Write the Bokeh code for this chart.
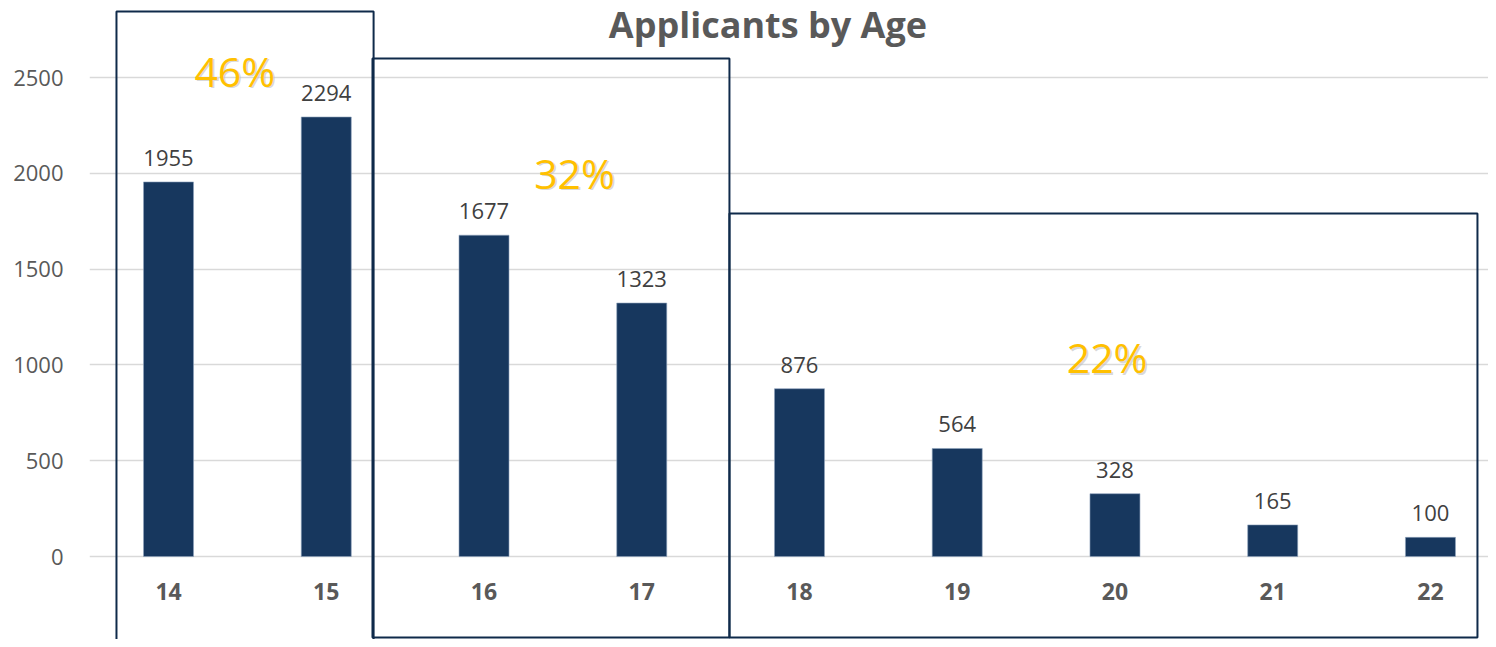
from bokeh.plotting import figure
from bokeh.models import ColumnDataSource, SingleIntervalTicker, Label
from bokeh.core.properties import value
from bokeh.embed import file_html
from bokeh.resources import INLINE

# ---- data ----
ages = [14, 15, 16, 17, 18, 19, 20, 21, 22]
applicants = [1955, 2294, 1677, 1323, 876, 564, 328, 165, 100]
group_first = [14, 16, 18]
group_last = [15, 17, 22]
group_pct = ["46%", "32%", "22%"]
title_text = "Applicants by Age"

FONT = "Open Sans"
NAVY = "#17375E"
GOLD = "#FFC000"
GRAY = "#595959"

p = figure(width=1488, height=639, output_backend="svg", toolbar_location=None,
           x_range=(13.499, 22.368), y_range=(-433, 2902),
           x_axis_location=None, min_border_left=89, min_border_right=0,
           min_border_top=0, min_border_bottom=0, outline_line_color=None)

# y axis
p.yaxis.ticker = SingleIntervalTicker(interval=500)
p.yaxis.axis_line_color = None
p.yaxis.major_tick_line_color = None
p.yaxis.minor_tick_line_color = None
p.yaxis.major_label_text_font = FONT
p.yaxis.major_label_text_font_size = "22px"
p.yaxis.major_label_text_color = GRAY
p.yaxis.major_label_standoff = 20
p.ygrid.grid_line_color = "#D9D9D9"
p.ygrid.grid_line_width = 1.5
p.xgrid.grid_line_color = None

src = ColumnDataSource(dict(age=ages, n=applicants,
                            lab=[str(v) for v in applicants],
                            xl=[str(a) for a in ages],
                            ly=[-183] * len(ages)))

p.vbar(x="age", top="n", width=0.317, bottom=0, source=src,
       fill_color=NAVY, line_color="#8FA3BC", line_width=0.6)

# value labels
p.text(x="age", y="n", text="lab", source=src, text_align="center",
       text_baseline="bottom", y_offset=-16, text_font=value(FONT),
       text_font_size="22px", text_color="#404040")

# category labels
p.text(x="age", y="ly", text="xl", source=src, text_align="center",
       text_baseline="middle", text_font=value(FONT), text_font_style="bold",
       text_font_size="23px", text_color=GRAY)

# group boxes
left_pad = [0.33, 0.707, 0.444]
right_pad = [0.30, 0.556, 0.298]
box_top = [2844, 2599, 1790]
box_bottom = [-520, -423, -423]
pct_x = [14.42, 16.574, 19.95]
pct_y = [2536, 2004, 1039]
bsrc = ColumnDataSource(dict(
    l=[f - lp for f, lp in zip(group_first, left_pad)],
    r=[g + rp for g, rp in zip(group_last, right_pad)],
    t=box_top, b=box_bottom))
p.quad(left="l", right="r", top="t", bottom="b", source=bsrc,
       fill_color=None, line_color="#0F2A4A", line_width=2)

psrc = ColumnDataSource(dict(x=pct_x, y=pct_y, t=group_pct))
p.text(x="x", y="y", text="t", source=psrc, text_align="center",
       text_baseline="middle", x_offset=1.5, y_offset=1.5, text_font=value(FONT),
       text_font_size="41px", text_color="#BFBFBF", text_alpha=0.6)
p.text(x="x", y="y", text="t", source=psrc, text_align="center",
       text_baseline="middle", text_font=value(FONT),
       text_font_size="41px", text_color=GOLD)

p.add_layout(Label(x=17.80, y=2777, text=title_text, text_align="center",
                   text_baseline="middle", text_font=FONT, text_font_style="bold",
                   text_font_size="36px", text_color=GRAY))

open("out.html", "w").write(file_html(p, INLINE))
